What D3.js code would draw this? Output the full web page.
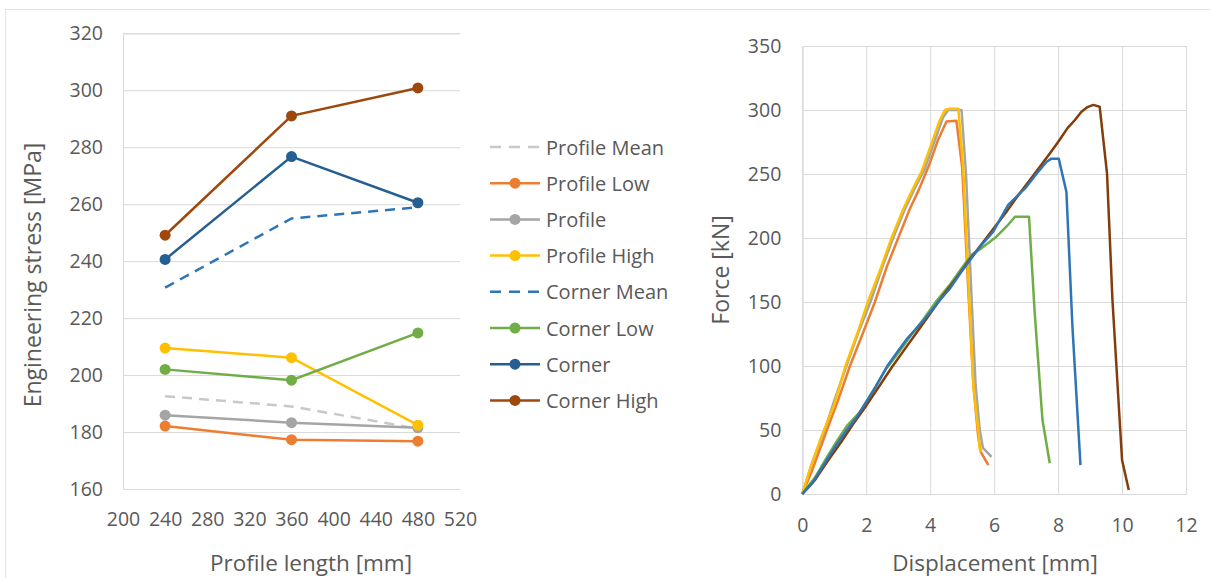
<!DOCTYPE html>
<html>
<head>
<meta charset="utf-8">
<script src="https://cdn.jsdelivr.net/npm/d3@7"></script>
<style>
  body { margin: 0; background: #fff; }
  svg text { font-family: "Open Sans", sans-serif; fill: #595959; }
</style>
</head>
<body>
<div id="chart"></div>
<script>
// left chart: engineering stress vs profile length
var lengths = [240, 360, 480];
var stressTicks = [160, 180, 200, 220, 240, 260, 280, 300, 320];
var lengthTicks = [200, 240, 280, 320, 360, 400, 440, 480, 520];
var seriesNames = ["Profile Mean", "Profile Low", "Profile", "Profile High",
                   "Corner Mean", "Corner Low", "Corner", "Corner High"];
var profileMean = [192.6, 189.0, 181.2];
var profileLow  = [182.1, 177.3, 176.8];
var profile     = [185.9, 183.3, 181.5];
var profileHigh = [209.5, 206.1, 182.4];
var cornerMean  = [230.7, 255.0, 258.9];
var cornerLow   = [202.0, 198.2, 214.8];
var corner      = [240.6, 276.7, 260.5];
var cornerHigh  = [249.1, 291.0, 300.8];

// right chart: force vs displacement curves
var forceTicks = [0, 50, 100, 150, 200, 250, 300, 350];
var dispTicks = [0, 2, 4, 6, 8, 10, 12];
var curveNames = ["Profile Low", "Profile", "Profile High", "Corner Low", "Corner", "Corner High"];
var pLowDisp  = [0, 0.3, 0.77, 1.1, 1.49, 1.9, 2.27, 2.65, 3.0, 3.35, 3.65, 3.95, 4.25, 4.51, 4.82, 5.0, 5.2, 5.35, 5.5, 5.58, 5.82];
var pLowForce = [0, 18, 50, 72, 100, 126, 150, 178, 200, 222, 238, 256, 277, 291, 291.6, 255, 155, 85, 45, 33, 22.6];
var pDisp  = [0, 0.3, 0.7, 1.0, 1.38, 1.75, 2.13, 2.5, 2.84, 3.2, 3.5, 3.83, 4.2, 4.4, 4.56, 4.98, 5.12, 5.3, 5.42, 5.55, 5.65, 5.92];
var pForce = [0, 24, 50, 73, 100, 126, 150, 177, 200, 222, 238, 254, 280, 294, 300, 300, 250, 150, 85, 50, 36, 29];
var pHighDisp  = [0, 0.25, 0.6, 1.0, 1.35, 1.7, 2.05, 2.45, 2.79, 3.15, 3.45, 3.73, 4.13, 4.3, 4.46, 4.6, 4.88, 5.03, 5.22, 5.35, 5.5, 5.55, 5.6];
var pHighForce = [0, 20, 45, 70, 100, 124, 150, 176, 200, 222, 238, 252, 280, 292, 300, 301, 301, 256, 152, 85, 50, 35, 33];
var cLowDisp  = [0, 0.4, 0.8, 1.1, 1.39, 1.8, 2.2, 2.6, 3.0, 3.4, 3.8, 4.2, 4.6, 5.0, 5.3, 5.55, 6.07, 6.39, 6.65, 7.09, 7.27, 7.51, 7.74];
var cLowForce = [0, 13, 30, 42, 53, 64, 80, 97, 110, 124, 137, 151, 163, 177, 187, 191, 201, 209, 216.6, 216.6, 141, 58, 24];
var cDisp  = [0, 0.3, 0.6, 1.0, 1.39, 1.7, 2.0, 2.3, 2.66, 3.0, 3.3, 3.7, 4.0, 4.25, 4.6, 4.93, 5.55, 5.97, 6.44, 7.01, 7.32, 7.64, 7.79, 8.02, 8.26, 8.45, 8.7];
var cForce = [0, 8, 20, 36, 50, 60, 72, 84, 100, 112, 122, 133, 142, 150, 160, 172, 193, 205, 225.8, 240, 250, 259.6, 262, 262, 236, 130, 22.6];
var cHighDisp  = [0, 0.4, 0.8, 1.2, 1.6, 2.0, 2.4, 2.8, 3.2, 3.6, 4.0, 4.4, 4.8, 5.2, 5.6, 6.0, 6.4, 6.8, 7.2, 7.74, 8.0, 8.3, 8.52, 8.73, 8.9, 9.1, 9.3, 9.53, 9.7, 10.0, 10.21];
var cHighForce = [0, 11, 26, 40, 55, 69, 84, 99, 113, 127, 141, 155, 168, 182, 195, 208, 221, 235, 248, 266, 275, 286, 292, 298.7, 302, 304, 302.6, 250.5, 151.6, 26.6, 3.1];

var svg = d3.select("#chart").append("svg")
  .attr("width", 1210)
  .attr("height", 578);

var gridColor = "#d9d9d9";

// chart area outline
svg.append("line").attr("x1", 5).attr("x2", 1210).attr("y1", 9.5).attr("y2", 9.5)
  .attr("stroke", "#e3e3e3");
svg.append("line").attr("x1", 5.5).attr("x2", 5.5).attr("y1", 9).attr("y2", 578)
  .attr("stroke", "#e3e3e3");

// ---------- left chart ----------
var L = {left: 123, right: 460, top: 33.3, bottom: 489};
var xL = d3.scaleLinear().domain([200, 520]).range([L.left, L.right]);
var yL = d3.scaleLinear().domain([160, 320]).range([L.bottom, L.top]);

var gyL = svg.append("g").attr("transform", "translate(" + L.left + ",0)")
  .call(d3.axisLeft(yL).tickValues(stressTicks).tickSize(-(L.right - L.left)).tickPadding(20));
gyL.select(".domain").attr("stroke", gridColor);
gyL.selectAll(".tick line").attr("stroke", gridColor);
gyL.selectAll(".tick text").attr("font-size", 19.5).attr("fill", "#595959");

var gxL = svg.append("g").attr("transform", "translate(0," + L.bottom + ")")
  .call(d3.axisBottom(xL).tickValues(lengthTicks).tickSize(0).tickPadding(23));
gxL.select(".domain").attr("stroke", gridColor);
gxL.selectAll(".tick text").attr("font-size", 19.5).attr("fill", "#595959");

svg.append("text").attr("transform", "translate(32,275) rotate(-90)")
  .attr("text-anchor", "middle").attr("dominant-baseline", "central")
  .attr("font-size", 23).text("Engineering stress [MPa]");
svg.append("text").attr("x", 311).attr("y", 562)
  .attr("text-anchor", "middle").attr("dominant-baseline", "central")
  .attr("font-size", 22.5).text("Profile length [mm]");

var leftSeries = [
  {name: seriesNames[0], values: profileMean, color: "#c8c8c8", dash: "10,7", marker: false},
  {name: seriesNames[1], values: profileLow,  color: "#ed7d31", dash: null, marker: true},
  {name: seriesNames[2], values: profile,     color: "#a5a5a5", dash: null, marker: true},
  {name: seriesNames[3], values: profileHigh, color: "#ffc000", dash: null, marker: true},
  {name: seriesNames[4], values: cornerMean,  color: "#2e75b6", dash: "10,7", marker: false},
  {name: seriesNames[5], values: cornerLow,   color: "#70ad47", dash: null, marker: true},
  {name: seriesNames[6], values: corner,      color: "#255e91", dash: null, marker: true},
  {name: seriesNames[7], values: cornerHigh,  color: "#9e480e", dash: null, marker: true}
];

var lineL = d3.line()
  .x(function(d, i) { return xL(lengths[i]); })
  .y(function(d) { return yL(d); });

leftSeries.forEach(function(s) {
  svg.append("path").datum(s.values)
    .attr("d", lineL)
    .attr("fill", "none")
    .attr("stroke", s.color)
    .attr("stroke-width", 2.5)
    .attr("stroke-dasharray", s.dash);
  if (s.marker) {
    svg.selectAll(null).data(s.values).enter().append("circle")
      .attr("cx", function(d, i) { return xL(lengths[i]); })
      .attr("cy", function(d) { return yL(d); })
      .attr("r", 5.5)
      .attr("fill", s.color);
  }
});

// legend
var legend = svg.append("g").attr("transform", "translate(490,147)");
var item = legend.selectAll("g").data(leftSeries).enter().append("g")
  .attr("transform", function(d, i) { return "translate(0," + (i * 36.2) + ")"; });
item.append("line").attr("x1", 0).attr("x2", 50).attr("y1", 0).attr("y2", 0)
  .attr("stroke", function(d) { return d.color; })
  .attr("stroke-width", 2.5)
  .attr("stroke-dasharray", function(d) { return d.dash ? "11,8" : null; });
item.filter(function(d) { return d.marker; }).append("circle")
  .attr("cx", 25).attr("r", 5.5).attr("fill", function(d) { return d.color; });
item.append("text").attr("x", 56).attr("dominant-baseline", "central")
  .attr("font-size", 20).text(function(d) { return d.name; });

// ---------- right chart ----------
var R = {left: 802.3, right: 1186, top: 46, bottom: 494};
var xR = d3.scaleLinear().domain([0, 12]).range([R.left, R.right]);
var yR = d3.scaleLinear().domain([0, 350]).range([R.bottom, R.top]);

var gxR = svg.append("g").attr("transform", "translate(0," + R.bottom + ")")
  .call(d3.axisBottom(xR).tickValues(dispTicks).tickSize(-(R.bottom - R.top)).tickPadding(24));
gxR.select(".domain").attr("stroke", gridColor);
gxR.selectAll(".tick line").attr("stroke", gridColor);
gxR.selectAll(".tick text").attr("font-size", 19.5).attr("fill", "#595959");

var gyR = svg.append("g").attr("transform", "translate(" + R.left + ",0)")
  .call(d3.axisLeft(yR).tickValues(forceTicks).tickSize(-(R.right - R.left)).tickPadding(21));
gyR.select(".domain").attr("stroke", gridColor);
gyR.selectAll(".tick line").attr("stroke", gridColor);
gyR.selectAll(".tick text").attr("font-size", 19.5).attr("fill", "#595959");

svg.append("text").attr("transform", "translate(720,270) rotate(-90)")
  .attr("text-anchor", "middle").attr("dominant-baseline", "central")
  .attr("font-size", 23).text("Force [kN]");
svg.append("text").attr("x", 995).attr("y", 562)
  .attr("text-anchor", "middle").attr("dominant-baseline", "central")
  .attr("font-size", 22.5).text("Displacement [mm]");

var curves = [
  {name: curveNames[0], x: pLowDisp,  y: pLowForce,  color: "#ed7d31"},
  {name: curveNames[1], x: pDisp,     y: pForce,     color: "#a5a5a5"},
  {name: curveNames[2], x: pHighDisp, y: pHighForce, color: "#ffc000"},
  {name: curveNames[3], x: cLowDisp,  y: cLowForce,  color: "#70ad47"},
  {name: curveNames[5], x: cHighDisp, y: cHighForce, color: "#843c0c"},
  {name: curveNames[4], x: cDisp,     y: cForce,     color: "#2e75b6"}
];

var lineR = d3.line()
  .x(function(d) { return xR(d[0]); })
  .y(function(d) { return yR(d[1]); });

curves.forEach(function(c) {
  var pts = c.x.map(function(v, i) { return [v, c.y[i]]; });
  svg.append("path").datum(pts)
    .attr("d", lineR)
    .attr("fill", "none")
    .attr("stroke", c.color)
    .attr("stroke-width", 2.5)
    .attr("stroke-linejoin", "round");
});
</script>
</body>
</html>
